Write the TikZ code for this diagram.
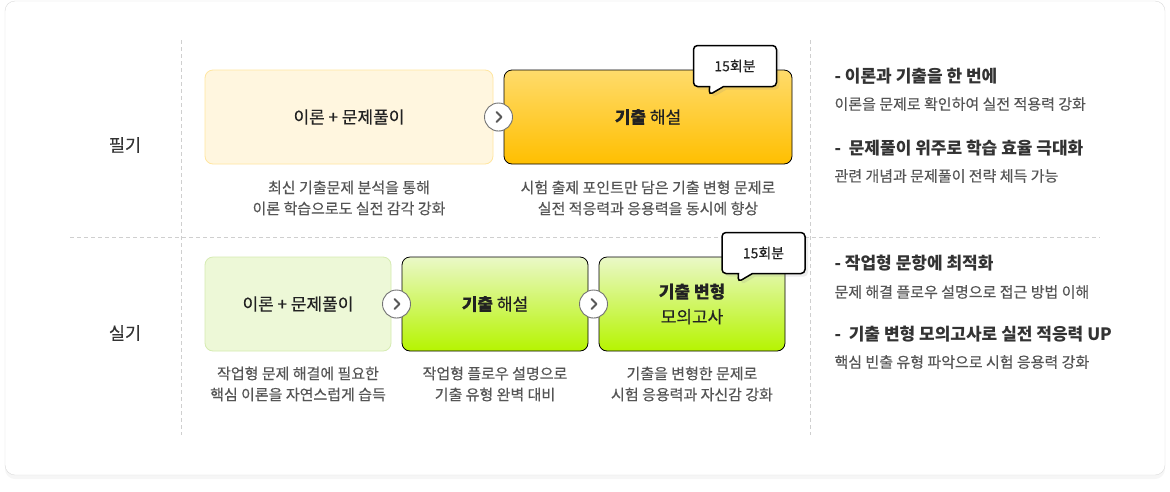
\documentclass[tikz,border=0pt]{standalone}
\usepackage{fontspec}
\setmainfont{Noto Sans CJK KR}
\newfontfamily\medfont{Noto Sans CJK KR}[FakeBold=0.35]
\usetikzlibrary{shapes.callouts, shadows, calc, positioning}

\definecolor{frame}{HTML}{DADADA}
\definecolor{guide}{HTML}{CFCFCF}
\definecolor{ink}{HTML}{222222}
\definecolor{head}{HTML}{333333}
\definecolor{body}{HTML}{555555}
\definecolor{creamfill}{HTML}{FFF6DF}
\definecolor{creamline}{HTML}{FFE6A0}
\definecolor{goldtop}{HTML}{FFDB6B}
\definecolor{goldbot}{HTML}{FFBF00}
\definecolor{mintfill}{HTML}{EDF8D7}
\definecolor{mintline}{HTML}{D6EBB2}
\definecolor{limetop}{HTML}{EAF8C8}
\definecolor{limebot}{HTML}{B6F400}

\tikzset{
  soft/.style={rounded corners=8pt, line width=0.8pt, minimum height=94pt, inner sep=0pt, align=center, text=ink, font=\medfont\fontsize{17}{25}\selectfont},
  pale/.style 2 args={soft, draw=#1, fill=#2},
  hot/.style 2 args={soft, draw=black, top color=#1, bottom color=#2},
  nextbtn/.style={circle, draw=black!55, line width=0.9pt, fill=white, minimum size=28pt, inner sep=0pt, drop shadow={opacity=0.12, shadow xshift=0.5pt, shadow yshift=-1pt}},
  chev/.style={draw=black!65, line width=1.8pt, line cap=round, line join=round},
  badge/.style={rectangle callout, draw=black, line width=1.5pt, fill=white, rounded corners=4pt, minimum width=83pt, minimum height=41pt, callout pointer width=14pt, text=ink, font=\medfont\fontsize{14}{16}\selectfont, drop shadow={opacity=0.15, shadow xshift=3pt, shadow yshift=-3pt}},
  caption/.style={align=center, text=body, font=\medfont\fontsize{15}{21}\selectfont},
  lead/.style={anchor=west, text=head, font=\bfseries\fontsize{17}{20}\selectfont},
  note/.style={anchor=west, text=body, font=\medfont\fontsize{15}{18}\selectfont},
  track/.style={text=head, font=\medfont\fontsize{17.5}{20}\selectfont},
  guideline/.style={draw=guide, line width=0.8pt, dash pattern=on 4pt off 3pt}
}

\begin{document}
\begin{tikzpicture}[x=1pt,y=-1pt]
  \def\wa{288pt}
  \def\wb{186pt}

  \useasboundingbox (0,0) rectangle (1170,491);
  \fill[white] (0,0) rectangle (1170,491);
  \draw[draw=frame, fill=white, rounded corners=10pt, drop shadow={opacity=0.07, shadow xshift=0pt, shadow yshift=-4pt}] (5,1) rectangle (1165,475);

  \draw[guideline] (181.5,40) -- (181.5,435);
  \draw[guideline] (810.5,40) -- (810.5,435);
  \draw[guideline] (70,237.5) -- (1100,237.5);

  \node[track] (pil) at (125,145) {필기};
  \node[track] (sil) at (125,333) {실기};

  \node[pale={creamline}{creamfill}, minimum width=\wa] (pa) at (349,117) {이론 + 문제풀이};
  \node[hot={goldtop}{goldbot}, minimum width=\wa] (pb) at (648,117) {\textbf{기출} 해설};
  \node[nextbtn] (pn) at ($(pa.east)!0.5!(pb.west)$) {};
  \draw[chev] ($(pn)+(-2,-5)$) -- ++(5,5) -- ++(-5,5);
  \node[badge, callout absolute pointer={(709,95)}] (pbadge) at (735,66) {15회분};

  \node[caption] (pac) at (349,198) {최신 기출문제 분석을 통해\\이론 학습으로도 실전 감각 강화};
  \node[caption] (pbc) at (648,198) {시험 출제 포인트만 담은 기출 변형 문제로\\실전 적응력과 응용력을 동시에 향상};

  \node[pale={mintline}{mintfill}, minimum width=\wb] (sa) at (298,304) {이론 + 문제풀이};
  \node[hot={limetop}{limebot}, minimum width=\wb] (sb) at (495,304) {\textbf{기출} 해설};
  \node[hot={limetop}{limebot}, minimum width=\wb] (sc) at (692,304) {\textbf{기출 변형}\\모의고사};
  \node[nextbtn] (sn1) at ($(sa.east)!0.5!(sb.west)$) {};
  \draw[chev] ($(sn1)+(-2,-5)$) -- ++(5,5) -- ++(-5,5);
  \node[nextbtn] (sn2) at ($(sb.east)!0.5!(sc.west)$) {};
  \draw[chev] ($(sn2)+(-2,-5)$) -- ++(5,5) -- ++(-5,5);
  \node[badge, callout absolute pointer={(738,282)}] (sbadge) at (763.5,253) {15회분};

  \node[caption] (sac) at (298,384) {작업형 문제 해결에 필요한\\핵심 이론을 자연스럽게 습득};
  \node[caption] (sbc) at (495,384) {작업형 플로우 설명으로\\기출 유형 완벽 대비};
  \node[caption] (scc) at (692,384) {기출을 변형한 문제로\\시험 응용력과 자신감 강화};

  \node[lead] (pl1) at (831,76) {- 이론과 기출을 한 번에};
  \node[note] (pt1) at (831,104) {이론을 문제로 확인하여 실전 적용력 강화};
  \node[lead] (pl2) at (831,148) {-\ \ 문제풀이 위주로 학습 효율 극대화};
  \node[note] (pt2) at (831,176) {관련 개념과 문제풀이 전략 체득 가능};
  \node[lead] (sl1) at (831,263) {- 작업형 문항에 최적화};
  \node[note] (st1) at (831,292) {문제 해결 플로우 설명으로 접근 방법 이해};
  \node[lead] (sl2) at (831,334) {-\ \ 기출 변형 모의고사로 실전 적응력 UP};
  \node[note] (st2) at (831,362) {핵심 빈출 유형 파악으로 시험 응용력 강화};
\end{tikzpicture}
\end{document}
